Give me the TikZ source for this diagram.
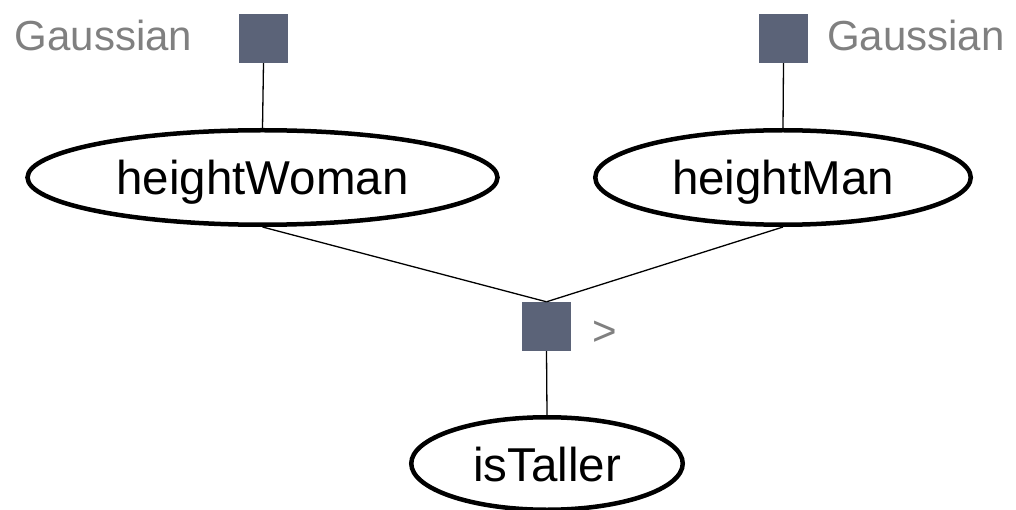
\documentclass[tikz,border=0pt]{standalone}
\usepackage{fontspec}
\setmainfont{Liberation Sans}
\usetikzlibrary{shapes.geometric}
\definecolor{factorcol}{RGB}{91,99,120}
\definecolor{labelgray}{RGB}{128,128,128}
\tikzset{
  factor/.style={rectangle, fill=factorcol, draw=none, minimum size=49pt, inner sep=0pt},
  varnode/.style={ellipse, draw=black, line width=4.5pt, inner sep=0pt,
    font=\fontsize{47.5pt}{50pt}\selectfont, text height=35pt, text depth=0pt},
  flabel/.style={text=labelgray, font=\fontsize{42pt}{44pt}\selectfont, inner sep=0pt},
  conn/.style={draw=black, line width=1.3pt}
}
\begin{document}
\begin{tikzpicture}[x=1pt,y=-1pt]
\useasboundingbox (0,0) rectangle (1016,510);
\node[factor] (fw) at (263.5,38.5) {};
\node[factor] (fm) at (783.5,38.5) {};
\node[factor] (fc) at (546.5,326.5) {};
\node[varnode, minimum width=470pt, minimum height=94.5pt] (hw) at (262.5,177.5) {heightWoman};
\node[varnode, minimum width=375.5pt, minimum height=94.5pt] (hm) at (783,177.5) {heightMan};
\node[varnode, minimum width=271.5pt, minimum height=92.5pt] (it) at (547,463.5) {isTaller};
\node[flabel, anchor=base west] (gw) at (14.5,51) {Gaussian};
\node[flabel, anchor=base west] (gm) at (827,51) {Gaussian};
\node[flabel, anchor=base west] (gt) at (592,345) {>};
\draw[conn] (fw.south) -- (hw.north);
\draw[conn] (fm.south) -- (hm.north);
\draw[conn] (hw.south) -- (fc.north);
\draw[conn] (hm.south) -- (fc.north);
\draw[conn] (fc.south) -- (it.north);
\end{tikzpicture}
\end{document}
